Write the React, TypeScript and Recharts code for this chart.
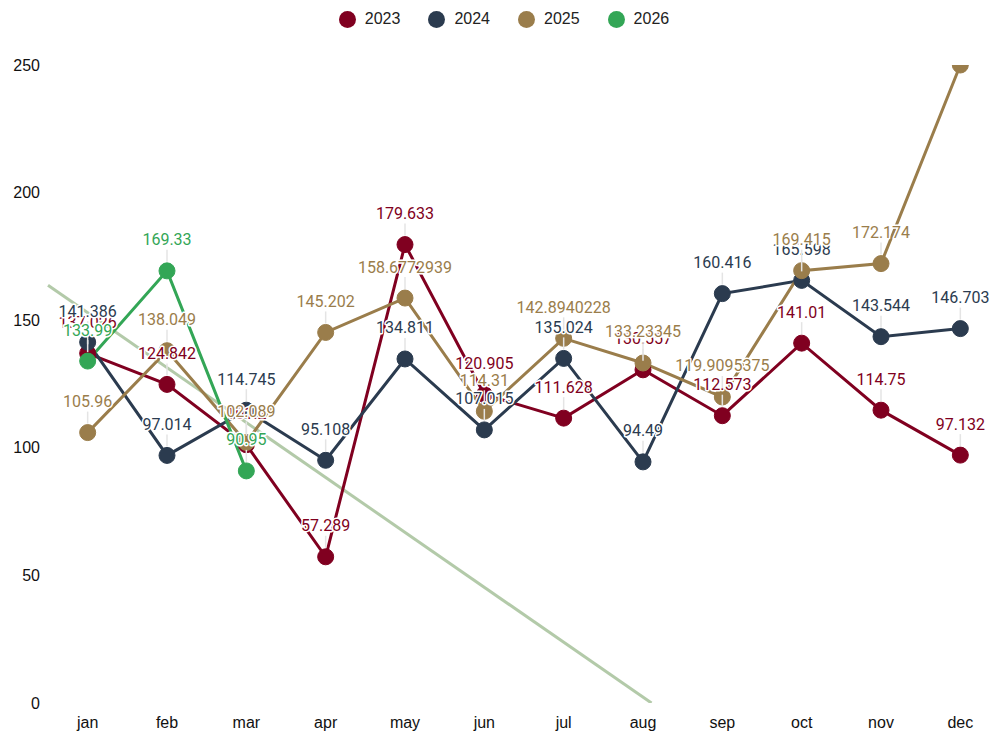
import { LineChart, Line, XAxis, YAxis, Legend, LabelList } from "recharts";

const months = ["jan", "feb", "mar", "apr", "may", "jun", "jul", "aug", "sep", "oct", "nov", "dec"];

const sales2023 = [137.026, 124.842, 101.2, 57.289, 179.633, 120.905, 111.628, 130.557, 112.573, 141.01, 114.75, 97.132];
const sales2024 = [141.386, 97.014, 114.745, 95.108, 134.811, 107.015, 135.024, 94.49, 160.416, 165.598, 143.544, 146.703];
const sales2025 = [105.96, 138.049, 102.089, 145.202, 158.6772939, 114.31, 142.8940228, 133.23345, 119.9095375, 169.415, 172.174, 250];
const sales2026 = [133.99, 169.33, 90.95];

const yTicks = [0, 50, 100, 150, 200, 250];

const series = [
  { key: "y2023", name: "2023", values: sales2023, color: "#800020" },
  { key: "y2024", name: "2024", values: sales2024, color: "#2b3b4f" },
  { key: "y2025", name: "2025", values: sales2025, color: "#9a7d4b" },
  { key: "y2026", name: "2026", values: sales2026, color: "#33a656" },
];

const PLOT_TOP = 65;

// linear trend through the 2026 points, drawn from the left edge down to zero
function trendLine(values: number[]) {
  const n = values.length;
  const mx = (n - 1) / 2;
  const my = values.reduce((a, b) => a + b, 0) / n;
  let num = 0;
  let den = 0;
  values.forEach((v, i) => {
    num += (i - mx) * (v - my);
    den += (i - mx) * (i - mx);
  });
  const slope = num / den;
  const icpt = my - slope * mx;
  const x0 = -0.5;
  const x1 = -icpt / slope;
  return [
    { x: x0, trend: icpt + slope * x0 },
    { x: x1, trend: 0 },
  ];
}

const rows = months.map((m, i) => {
  const r: Record<string, number | string> = { x: i, month: m };
  series.forEach((s) => {
    if (s.values[i] !== undefined) r[s.key] = s.values[i];
  });
  return r;
});

function PointLabel(props: any) {
  const { x, y, value, color } = props;
  if (value == null || y - 31 < PLOT_TOP) return null;
  return (
    <g>
      <line x1={x} x2={x} y1={y - 21} y2={y - 9} stroke="#e4e4e4" strokeWidth={1.5} />
      <text
        x={x}
        y={y - 31}
        textAnchor="middle"
        dominantBaseline="central"
        fill={color}
        stroke="#fff"
        strokeWidth={3}
        strokeLinejoin="round"
        paintOrder="stroke"
        fontSize={16}
        fontFamily="Roboto"
      >
        {String(value)}
      </text>
    </g>
  );
}

function LegendBox() {
  return (
    <div style={{ display: "flex", justifyContent: "center", fontFamily: "Arial, 'Liberation Sans'", fontSize: 16 }}>
      {series.map((s) => (
        <div key={s.key} style={{ display: "flex", alignItems: "center", margin: "0 14px" }}>
          <span style={{ width: 17, height: 17, borderRadius: "50%", background: s.color, marginRight: 9 }} />
          <span style={{ color: "#222" }}>{s.name}</span>
        </div>
      ))}
    </div>
  );
}

export default function App() {
  const trend = trendLine(sales2026);
  return (
    <div style={{ position: "absolute", left: 0, top: 0, width: 995, height: 735, overflow: "hidden", background: "#fff" }}>
      <LineChart width={1000} height={735} data={rows} margin={{ top: 29, right: 0, bottom: 0, left: 0 }}>
        <Legend verticalAlign="top" height={36} content={<LegendBox />} wrapperStyle={{ top: 10, left: 4 }} />
        <XAxis
          dataKey="x"
          type="number"
          domain={[-0.5, 11.5]}
          ticks={months.map((_, i) => i)}
          tickFormatter={(v) => months[v]}
          axisLine={false}
          tickLine={false}
          height={32}
          tickMargin={8}
          tick={{ fill: "#111", fontSize: 16, fontFamily: "Arial, 'Liberation Sans'" }}
        />
        <YAxis
          domain={[0, 250]}
          ticks={yTicks}
          allowDataOverflow
          axisLine={false}
          tickLine={false}
          width={48}
          tick={{ fill: "#111", fontSize: 16, fontFamily: "Arial, 'Liberation Sans'" }}
        />
        <Line
          data={trend}
          dataKey="trend"
          stroke="#b3caa9"
          strokeWidth={3}
          dot={false}
          legendType="none"
          isAnimationActive={false}
        />
        {series.map((s) => (
          <Line
            key={s.key}
            dataKey={s.key}
            name={s.name}
            stroke={s.color}
            strokeWidth={3}
            dot={{ r: 8, fill: s.color, stroke: s.color, strokeWidth: 1 }}
            activeDot={false}
            isAnimationActive={false}
          />
        ))}
        {series.map((s) => (
          <Line
            key={s.key + "-lbl"}
            dataKey={s.key}
            stroke="none"
            dot={false}
            activeDot={false}
            legendType="none"
            isAnimationActive={false}
          >
            <LabelList dataKey={s.key} content={(p: any) => <PointLabel {...p} color={s.color} />} />
          </Line>
        ))}
      </LineChart>
    </div>
  );
}
